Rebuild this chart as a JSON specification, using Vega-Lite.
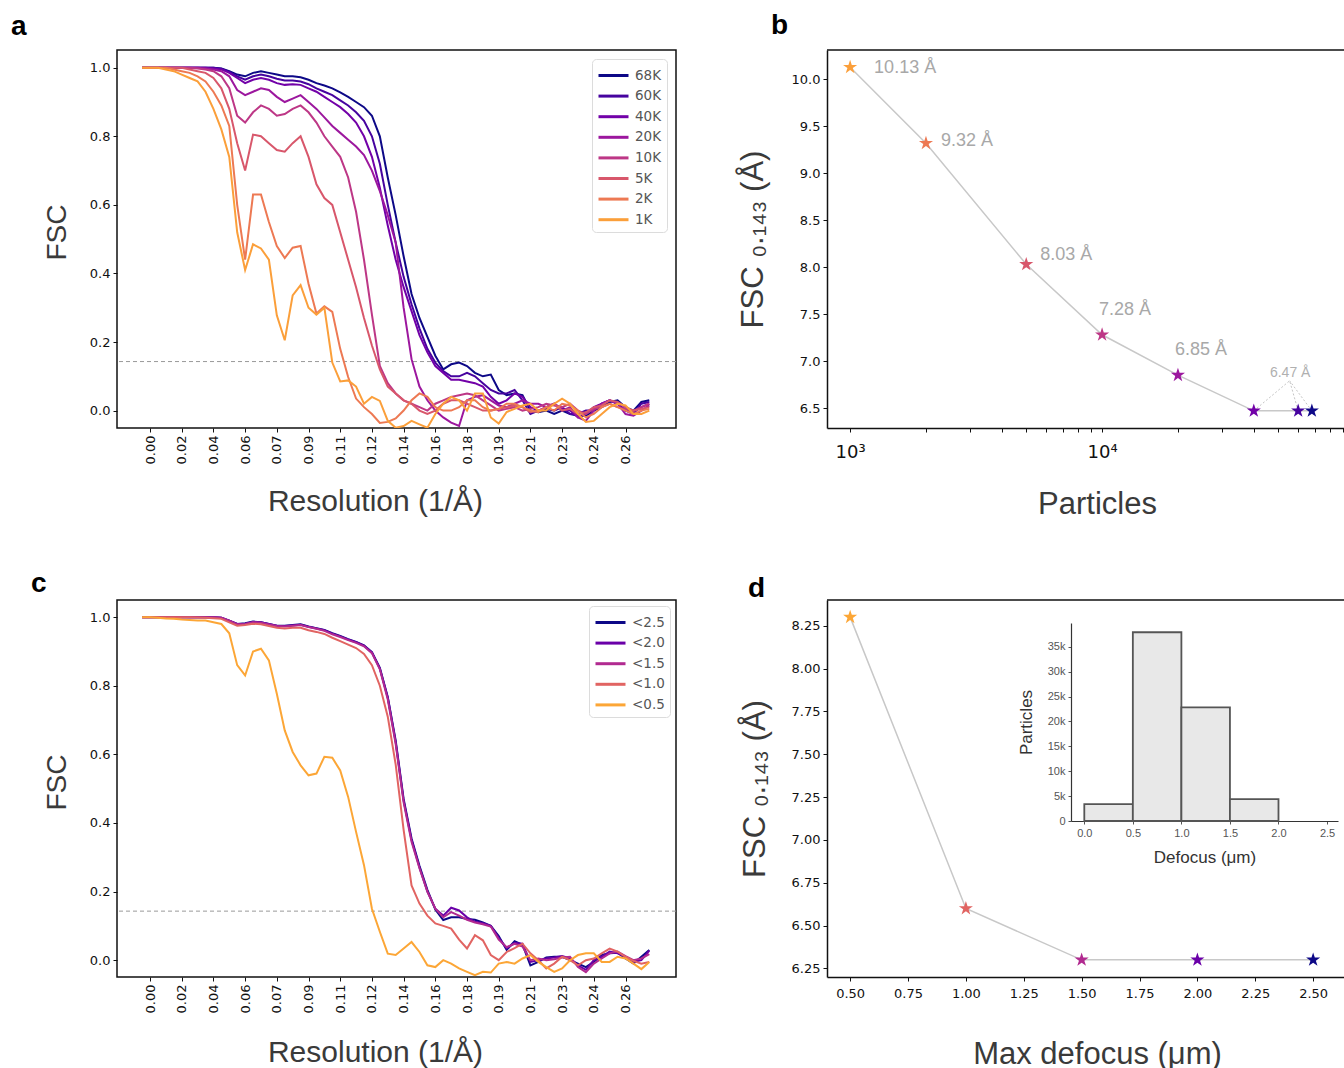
{
"$schema": "https://vega.github.io/schema/vega-lite/v6.json",
"background": "white",
"padding": {"left": 10, "top": 12, "right": 0, "bottom": 0},
"columns": 2,
"spacing": {"row": 172, "column": 151},
"bounds": "flush",
"resolve": {"scale": {"color": "independent"}, "legend": {"color": "independent"}},
"concat": [
{
 "width": 559, "height": 378,
 "title": {"text": "a", "dx": -106, "offset": 9},
 "layer": [
  {"data": {"values": [{}]}, "mark": {"type": "rule", "color": "#9a9a9a", "strokeDash": [4, 3], "strokeWidth": 1}, "encoding": {"y": {"datum": 0.143, "type": "quantitative"}}},
  {"data": {"values": [
{"k":0,"68K":1,"60K":1,"40K":1,"20K":1,"10K":1,"5K":1,"2K":1,"1K":1},
{"k":1,"68K":1,"60K":1,"40K":1,"20K":1,"10K":1,"5K":1,"2K":1,"1K":1},
{"k":2,"68K":1,"60K":1,"40K":1,"20K":1,"10K":1,"5K":1,"2K":1,"1K":1},
{"k":3,"68K":1,"60K":1,"40K":1,"20K":1,"10K":1,"5K":1,"2K":1,"1K":0.995},
{"k":4,"68K":1,"60K":1,"40K":1,"20K":1,"10K":1,"5K":1,"2K":0.995,"1K":0.99},
{"k":5,"68K":1,"60K":1,"40K":1,"20K":1,"10K":1,"5K":1,"2K":0.99,"1K":0.98},
{"k":6,"68K":1,"60K":1,"40K":1,"20K":1,"10K":1,"5K":0.995,"2K":0.985,"1K":0.97},
{"k":7,"68K":1,"60K":1,"40K":1,"20K":1,"10K":0.998,"5K":0.99,"2K":0.975,"1K":0.96},
{"k":8,"68K":1,"60K":1,"40K":1,"20K":0.998,"10K":0.995,"5K":0.985,"2K":0.96,"1K":0.93},
{"k":9,"68K":1,"60K":1,"40K":0.998,"20K":0.995,"10K":0.99,"5K":0.97,"2K":0.93,"1K":0.88},
{"k":10,"68K":0.998,"60K":0.997,"40K":0.995,"20K":0.99,"10K":0.975,"5K":0.94,"2K":0.89,"1K":0.82},
{"k":11,"68K":0.99,"60K":0.988,"40K":0.985,"20K":0.975,"10K":0.94,"5K":0.88,"2K":0.83,"1K":0.74},
{"k":12,"68K":0.98,"60K":0.975,"40K":0.97,"20K":0.935,"10K":0.86,"5K":0.78,"2K":0.6,"1K":0.52},
{"k":13,"68K":0.975,"60K":0.965,"40K":0.955,"20K":0.92,"10K":0.84,"5K":0.7,"2K":0.44,"1K":0.41},
{"k":14,"68K":0.985,"60K":0.975,"40K":0.965,"20K":0.93,"10K":0.87,"5K":0.805,"2K":0.63,"1K":0.485},
{"k":15,"68K":0.99,"60K":0.98,"40K":0.97,"20K":0.94,"10K":0.89,"5K":0.8,"2K":0.63,"1K":0.473},
{"k":16,"68K":0.985,"60K":0.975,"40K":0.965,"20K":0.935,"10K":0.88,"5K":0.78,"2K":0.55,"1K":0.44},
{"k":17,"68K":0.98,"60K":0.968,"40K":0.955,"20K":0.915,"10K":0.86,"5K":0.76,"2K":0.48,"1K":0.278},
{"k":18,"68K":0.975,"60K":0.963,"40K":0.95,"20K":0.9,"10K":0.865,"5K":0.755,"2K":0.445,"1K":0.205},
{"k":19,"68K":0.975,"60K":0.963,"40K":0.952,"20K":0.91,"10K":0.88,"5K":0.78,"2K":0.475,"1K":0.336},
{"k":20,"68K":0.972,"60K":0.96,"40K":0.95,"20K":0.92,"10K":0.89,"5K":0.8,"2K":0.48,"1K":0.366},
{"k":21,"68K":0.965,"60K":0.952,"40K":0.94,"20K":0.9,"10K":0.87,"5K":0.74,"2K":0.37,"1K":0.3},
{"k":22,"68K":0.955,"60K":0.94,"40K":0.93,"20K":0.88,"10K":0.84,"5K":0.66,"2K":0.283,"1K":0.28},
{"k":23,"68K":0.948,"60K":0.93,"40K":0.915,"20K":0.855,"10K":0.8,"5K":0.62,"2K":0.304,"1K":0.3},
{"k":24,"68K":0.94,"60K":0.92,"40K":0.9,"20K":0.83,"10K":0.77,"5K":0.6,"2K":0.288,"1K":0.14},
{"k":25,"68K":0.928,"60K":0.905,"40K":0.885,"20K":0.81,"10K":0.74,"5K":0.52,"2K":0.18,"1K":0.085},
{"k":26,"68K":0.915,"60K":0.89,"40K":0.865,"20K":0.79,"10K":0.68,"5K":0.44,"2K":0.098,"1K":0.088},
{"k":27,"68K":0.9,"60K":0.87,"40K":0.84,"20K":0.77,"10K":0.58,"5K":0.36,"2K":0.035,"1K":0.07},
{"k":28,"68K":0.885,"60K":0.845,"40K":0.8,"20K":0.745,"10K":0.44,"5K":0.27,"2K":0.01,"1K":0.02},
{"k":29,"68K":0.86,"60K":0.8,"40K":0.74,"20K":0.7,"10K":0.28,"5K":0.19,"2K":-0.01,"1K":0.04},
{"k":30,"68K":0.8,"60K":0.72,"40K":0.65,"20K":0.64,"10K":0.13,"5K":0.12,"2K":-0.036,"1K":0.028},
{"k":31,"68K":0.68,"60K":0.6,"40K":0.54,"20K":0.57,"10K":0.08,"5K":0.07,"2K":-0.033,"1K":-0.03},
{"k":32,"68K":0.57,"60K":0.49,"40K":0.44,"20K":0.49,"10K":0.05,"5K":0.05,"2K":-0.023,"1K":-0.05},
{"k":33,"68K":0.45,"60K":0.39,"40K":0.36,"20K":0.3,"10K":0.03,"5K":0.03,"2K":0,"1K":-0.045},
{"k":34,"68K":0.34,"60K":0.31,"40K":0.29,"20K":0.15,"10K":0.02,"5K":0.02,"2K":0.03,"1K":-0.03},
{"k":35,"68K":0.27,"60K":0.24,"40K":0.22,"20K":0.07,"10K":0.01,"5K":0,"2K":0.05,"1K":-0.04},
{"k":36,"68K":0.215,"60K":0.18,"40K":0.17,"20K":0.03,"10K":0,"5K":-0.01,"2K":0.04,"1K":-0.05},
{"k":37,"68K":0.16,"60K":0.14,"40K":0.13,"20K":0,"10K":0.02,"5K":0,"2K":0.01,"1K":-0.01},
{"k":38,"68K":0.12,"60K":0.115,"40K":0.11,"20K":-0.02,"10K":0.03,"5K":0.02,"2K":0,"1K":0.02},
{"k":39,"68K":0.135,"60K":0.1,"40K":0.09,"20K":-0.035,"10K":0.04,"5K":0.03,"2K":0,"1K":0.04},
{"k":40,"68K":0.14,"60K":0.1,"40K":0.09,"20K":-0.045,"10K":0.045,"5K":0.03,"2K":0.01,"1K":0.03},
{"k":41,"68K":0.13,"60K":0.11,"40K":0.085,"20K":0.03,"10K":0.05,"5K":0.02,"2K":0.03,"1K":0},
{"k":42,"68K":0.11,"60K":0.1,"40K":0.08,"20K":0.04,"10K":0.045,"5K":0.01,"2K":0.03,"1K":0.05},
{"k":43,"68K":0.1,"60K":0.08,"40K":0.07,"20K":0.045,"10K":0.03,"5K":0,"2K":0.01,"1K":0.05},
{"k":44,"68K":0.105,"60K":0.06,"40K":0.04,"20K":0.03,"10K":0.015,"5K":0,"2K":0,"1K":-0.02},
{"k":45,"68K":0.06,"60K":0.05,"40K":0.02,"20K":0.015,"10K":0,"5K":0.005,"2K":0.005,"1K":-0.038},
{"k":46,"68K":0.045,"60K":0.05,"40K":0.03,"20K":0.01,"10K":0.005,"5K":0.01,"2K":0.02,"1K":-0.004},
{"k":47,"68K":0.05,"60K":0.06,"40K":0.05,"20K":0.02,"10K":0.01,"5K":0.015,"2K":0.02,"1K":0.005},
{"k":48,"68K":0.045,"60K":0.03,"40K":0.04,"20K":0.03,"10K":0,"5K":0.01,"2K":0.01,"1K":0.015},
{"k":49,"68K":0,"60K":-0.01,"40K":0.01,"20K":0.02,"10K":0.005,"5K":-0.005,"2K":0,"1K":0.02},
{"k":50,"68K":-0.005,"60K":0,"40K":0,"20K":0.02,"10K":0.01,"5K":0,"2K":-0.005,"1K":0},
{"k":51,"68K":0,"60K":0.005,"40K":0.01,"20K":0.01,"10K":0.02,"5K":0.01,"2K":0.01,"1K":0},
{"k":52,"68K":-0.01,"60K":0,"40K":0.02,"20K":0.02,"10K":0.015,"5K":0.02,"2K":0,"1K":0.02},
{"k":53,"68K":0,"60K":0.01,"40K":0.005,"20K":0,"10K":0.01,"5K":0,"2K":0.02,"1K":0.035},
{"k":54,"68K":-0.01,"60K":-0.01,"40K":0,"20K":0.01,"10K":0.02,"5K":0.005,"2K":0.015,"1K":0.02},
{"k":55,"68K":-0.015,"60K":-0.01,"40K":-0.02,"20K":-0.02,"10K":0,"5K":-0.01,"2K":0,"1K":-0.01},
{"k":56,"68K":-0.015,"60K":0,"40K":-0.01,"20K":-0.03,"10K":-0.01,"5K":-0.005,"2K":-0.02,"1K":-0.033},
{"k":57,"68K":0,"60K":0,"40K":0.01,"20K":0,"10K":0.005,"5K":0.01,"2K":-0.01,"1K":-0.03},
{"k":58,"68K":0.01,"60K":0.02,"40K":0.02,"20K":0.02,"10K":0.01,"5K":0.015,"2K":0.01,"1K":-0.01},
{"k":59,"68K":0.025,"60K":0.03,"40K":0.03,"20K":0.03,"10K":0.02,"5K":0.03,"2K":0.02,"1K":0.01},
{"k":60,"68K":0.03,"60K":0.02,"40K":0.02,"20K":0.02,"10K":0.01,"5K":0.025,"2K":0.01,"1K":0.02},
{"k":61,"68K":0.01,"60K":0,"40K":0,"20K":-0.01,"10K":0.005,"5K":0.01,"2K":0,"1K":0.015},
{"k":62,"68K":0,"60K":-0.01,"40K":-0.005,"20K":-0.015,"10K":0,"5K":0,"2K":-0.01,"1K":-0.01},
{"k":63,"68K":0.025,"60K":0.02,"40K":0.01,"20K":0,"10K":0.01,"5K":0.005,"2K":0,"1K":-0.01},
{"k":64,"68K":0.03,"60K":0.025,"40K":0.02,"20K":0.015,"10K":0.02,"5K":0.01,"2K":0.005,"1K":0}
  ]},
   "transform": [{"fold": ["68K","60K","40K","20K","10K","5K","2K","1K"], "as": ["set","fsc"]}],
   "mark": {"type": "line", "strokeWidth": 2, "clip": true},
   "encoding": {
    "x": {"field": "k", "type": "quantitative", "scale": {"domain": [-3.167, 67.37], "nice": false, "zero": false},
          "axis": {"values": [1,5,9,13,17,21,25,29,33,37,41,45,49,53,57,61], "labelExpr": "['0.00','0.02','0.04','0.06','0.07','0.09','0.11','0.12','0.14','0.16','0.18','0.19','0.21','0.23','0.24','0.26'][(datum.value-1)/4]", "labelAngle": -90, "title": "Resolution (1/Å)", "titlePadding": 23, "titleFontSize": 30, "titleX": 258}},
    "y": {"field": "fsc", "type": "quantitative", "scale": {"domain": [-0.0508, 1.0517], "nice": false, "zero": false},
          "axis": {"values": [0,0.2,0.4,0.6,0.8,1], "format": ".1f", "title": "FSC", "titlePadding": 18, "titleY": 182}},
    "color": {"field": "set", "type": "nominal", "scale": {"domain": ["68K","60K","40K","20K","10K","5K","2K","1K"], "range": ["#0d0887","#46039f","#7201a8","#9c179e","#bd3786","#d8576b","#ed7953","#fb9f3a"]},
          "legend": {"title": null, "orient": "top-right", "offset": 9, "padding": 5, "fillColor": "white", "strokeColor": "#dcdcdc", "cornerRadius": 4, "symbolType": "M-1.5,0H1.5", "symbolStrokeWidth": 3, "symbolSize": 400, "symbolOffset": 5, "labelOffset": 10, "labelFontSize": 13.5, "labelColor": "#555", "labelFont": "DejaVu Sans", "rowPadding": 2.6}}
   }}
 ]
},
{
 "width": 518, "height": 378,
 "view": {"stroke": null},
 "title": {"text": "b", "dx": -56, "offset": 9},
 "layer": [
  {"data": {"values": [{}]}, "mark": {"type": "rule", "color": "#111", "strokeWidth": 1.5}, "encoding": {"y": {"datum": 10.313, "type": "quantitative"}}},
  {"data": {"name": "pb"}, "mark": {"type": "line", "color": "#c8c8c8", "strokeWidth": 1.5},
   "encoding": {
    "x": {"field": "n", "type": "quantitative", "scale": {"type": "log", "domain": [809.6, 92050], "nice": false},
          "axis": {"values": [1000,2000,3000,4000,5000,6000,7000,8000,9000,10000,20000,30000,40000,50000,60000,70000,80000,90000], "labelExpr": "datum.value == 1000 ? '10³' : datum.value == 10000 ? '10⁴' : ''", "labelFontSize": 18, "labelPadding": 11, "domain": true, "domainColor": "#111", "domainWidth": 1.5, "title": "Particles", "titleFontSize": 31, "titleX": 270, "titlePadding": 28}},
    "y": {"field": "res", "type": "quantitative", "scale": {"domain": [6.287, 10.313], "nice": false, "zero": false},
          "axis": {"values": [6.5,7,7.5,8,8.5,9,9.5,10], "format": ".1f", "domain": true, "domainColor": "#111", "domainWidth": 1.5, "title": "FSC ₀.₁₄₃ (Å)", "titleFontSize": 31, "titlePadding": 22}}
   }},
  {"data": {"name": "pb"}, "transform": [{"filter": "datum.n >= 40000"}], "mark": {"type": "rule", "color": "#bdbdbd", "strokeWidth": 0.9, "strokeDash": [2, 2]},
   "encoding": {"x": {"field": "n", "type": "quantitative"}, "y": {"field": "res", "type": "quantitative"}, "x2": {"datum": 55500}, "y2": {"datum": 6.79}}},
  {"data": {"name": "pb"}, "mark": {"type": "point", "filled": true, "opacity": 1, "size": 220, "shape": "M0,-1L0.2245,-0.309L0.951,-0.309L0.3633,0.118L0.5878,0.809L0,0.382L-0.5878,0.809L-0.3633,0.118L-0.951,-0.309L-0.2245,-0.309Z"},
   "encoding": {"x": {"field": "n", "type": "quantitative"}, "y": {"field": "res", "type": "quantitative"},
    "color": {"field": "pset", "type": "nominal", "scale": {"domain": ["68K","60K","40K","20K","10K","5K","2K","1K"], "range": ["#0d0887","#46039f","#7201a8","#9c179e","#bd3786","#d8576b","#ed7953","#fb9f3a"]}, "legend": null}}},
  {"data": {"name": "pb"}, "transform": [{"filter": "datum.n == 1000"}], "mark": {"type": "text", "align": "left", "baseline": "middle", "dx": 24, "dy": 1, "fontSize": 18, "color": "#a8a8a8"},
   "encoding": {"x": {"field": "n", "type": "quantitative"}, "y": {"field": "res", "type": "quantitative"}, "text": {"field": "lab"}}},
  {"data": {"name": "pb"}, "transform": [{"filter": "datum.n == 2000"}], "mark": {"type": "text", "align": "left", "baseline": "middle", "dx": 15, "dy": -2, "fontSize": 18, "color": "#a8a8a8"},
   "encoding": {"x": {"field": "n", "type": "quantitative"}, "y": {"field": "res", "type": "quantitative"}, "text": {"field": "lab"}}},
  {"data": {"name": "pb"}, "transform": [{"filter": "datum.n == 5000"}], "mark": {"type": "text", "align": "left", "baseline": "middle", "dx": 14, "dy": -9, "fontSize": 18, "color": "#a8a8a8"},
   "encoding": {"x": {"field": "n", "type": "quantitative"}, "y": {"field": "res", "type": "quantitative"}, "text": {"field": "lab"}}},
  {"data": {"name": "pb"}, "transform": [{"filter": "datum.n == 10000 || datum.n == 20000"}], "mark": {"type": "text", "align": "left", "baseline": "middle", "dx": -3, "dy": -25, "fontSize": 18, "color": "#a8a8a8"},
   "encoding": {"x": {"field": "n", "type": "quantitative"}, "y": {"field": "res", "type": "quantitative"}, "text": {"field": "lab"}}},
  {"data": {"name": "pb"}, "transform": [{"filter": "datum.n == 60000"}], "mark": {"type": "text", "align": "center", "baseline": "middle", "dx": -8, "dy": -38, "fontSize": 14, "color": "#b0b0b0"},
   "encoding": {"x": {"field": "n", "type": "quantitative"}, "y": {"field": "res", "type": "quantitative"}, "text": {"field": "lab"}}}
 ]
},
{
 "width": 559, "height": 377,
 "title": {"text": "c", "dx": -86, "offset": 2},
 "layer": [
  {"data": {"values": [{}]}, "mark": {"type": "rule", "color": "#9a9a9a", "strokeDash": [4, 3], "strokeWidth": 1}, "encoding": {"y": {"datum": 0.143, "type": "quantitative"}}},
  {"data": {"values": [
{"k":0,"m25":1,"m20":1,"m15":1,"m10":1,"m05":1},
{"k":1,"m25":1,"m20":1,"m15":1,"m10":1,"m05":1},
{"k":2,"m25":1,"m20":1,"m15":1,"m10":1,"m05":0.998},
{"k":3,"m25":1,"m20":1,"m15":1,"m10":1,"m05":0.996},
{"k":4,"m25":1,"m20":1,"m15":1,"m10":1,"m05":0.995},
{"k":5,"m25":1,"m20":1,"m15":1,"m10":1,"m05":0.993},
{"k":6,"m25":1,"m20":1,"m15":1,"m10":1,"m05":0.992},
{"k":7,"m25":1,"m20":1,"m15":1,"m10":0.999,"m05":0.99},
{"k":8,"m25":1,"m20":1,"m15":1,"m10":0.998,"m05":0.99},
{"k":9,"m25":1,"m20":1,"m15":1,"m10":0.997,"m05":0.985},
{"k":10,"m25":0.998,"m20":0.998,"m15":0.998,"m10":0.995,"m05":0.98},
{"k":11,"m25":0.99,"m20":0.99,"m15":0.99,"m10":0.985,"m05":0.953},
{"k":12,"m25":0.98,"m20":0.98,"m15":0.979,"m10":0.975,"m05":0.86},
{"k":13,"m25":0.982,"m20":0.981,"m15":0.98,"m10":0.977,"m05":0.83},
{"k":14,"m25":0.987,"m20":0.986,"m15":0.985,"m10":0.981,"m05":0.9},
{"k":15,"m25":0.985,"m20":0.985,"m15":0.984,"m10":0.979,"m05":0.908},
{"k":16,"m25":0.98,"m20":0.98,"m15":0.979,"m10":0.974,"m05":0.874},
{"k":17,"m25":0.975,"m20":0.975,"m15":0.974,"m10":0.969,"m05":0.777},
{"k":18,"m25":0.975,"m20":0.974,"m15":0.973,"m10":0.967,"m05":0.67},
{"k":19,"m25":0.977,"m20":0.976,"m15":0.975,"m10":0.969,"m05":0.607},
{"k":20,"m25":0.979,"m20":0.978,"m15":0.977,"m10":0.969,"m05":0.568},
{"k":21,"m25":0.973,"m20":0.972,"m15":0.971,"m10":0.962,"m05":0.539},
{"k":22,"m25":0.968,"m20":0.967,"m15":0.966,"m10":0.957,"m05":0.544},
{"k":23,"m25":0.963,"m20":0.962,"m15":0.96,"m10":0.951,"m05":0.593},
{"k":24,"m25":0.953,"m20":0.952,"m15":0.95,"m10":0.94,"m05":0.59},
{"k":25,"m25":0.945,"m20":0.944,"m15":0.942,"m10":0.93,"m05":0.553},
{"k":26,"m25":0.936,"m20":0.935,"m15":0.933,"m10":0.92,"m05":0.476},
{"k":27,"m25":0.928,"m20":0.927,"m15":0.925,"m10":0.91,"m05":0.374},
{"k":28,"m25":0.918,"m20":0.917,"m15":0.915,"m10":0.893,"m05":0.277},
{"k":29,"m25":0.898,"m20":0.897,"m15":0.895,"m10":0.86,"m05":0.15},
{"k":30,"m25":0.852,"m20":0.85,"m15":0.848,"m10":0.8,"m05":0.083},
{"k":31,"m25":0.767,"m20":0.765,"m15":0.76,"m10":0.71,"m05":0.019},
{"k":32,"m25":0.64,"m20":0.635,"m15":0.63,"m10":0.57,"m05":0.015},
{"k":33,"m25":0.47,"m20":0.465,"m15":0.46,"m10":0.38,"m05":0.034},
{"k":34,"m25":0.355,"m20":0.35,"m15":0.345,"m10":0.218,"m05":0.053},
{"k":35,"m25":0.275,"m20":0.27,"m15":0.268,"m10":0.165,"m05":0.024},
{"k":36,"m25":0.205,"m20":0.2,"m15":0.2,"m10":0.13,"m05":-0.015},
{"k":37,"m25":0.148,"m20":0.15,"m15":0.15,"m10":0.107,"m05":-0.02},
{"k":38,"m25":0.117,"m20":0.13,"m15":0.125,"m10":0.1,"m05":0},
{"k":39,"m25":0.125,"m20":0.153,"m15":0.14,"m10":0.092,"m05":-0.01},
{"k":40,"m25":0.125,"m20":0.145,"m15":0.13,"m10":0.06,"m05":-0.024},
{"k":41,"m25":0.12,"m20":0.125,"m15":0.118,"m10":0.034,"m05":-0.034},
{"k":42,"m25":0.118,"m20":0.112,"m15":0.11,"m10":0.073,"m05":-0.044},
{"k":43,"m25":0.11,"m20":0.108,"m15":0.105,"m10":0.058,"m05":-0.034},
{"k":44,"m25":0.1,"m20":0.1,"m15":0.098,"m10":0.015,"m05":-0.036},
{"k":45,"m25":0.07,"m20":0.065,"m15":0.06,"m10":0,"m05":-0.01},
{"k":46,"m25":0.03,"m20":0.035,"m15":0.038,"m10":0.024,"m05":-0.005},
{"k":47,"m25":0.055,"m20":0.05,"m15":0.048,"m10":0.035,"m05":-0.01},
{"k":48,"m25":0.045,"m20":0.048,"m15":0.04,"m10":0.048,"m05":0.005},
{"k":49,"m25":-0.015,"m20":-0.005,"m15":0,"m10":0.02,"m05":0.015},
{"k":50,"m25":-0.005,"m20":0,"m15":0.005,"m10":0,"m05":-0.005},
{"k":51,"m25":0.008,"m20":0.005,"m15":0,"m10":-0.024,"m05":-0.02},
{"k":52,"m25":0.01,"m20":0.008,"m15":0.003,"m10":-0.01,"m05":-0.034},
{"k":53,"m25":0.01,"m20":0.012,"m15":0.008,"m10":0.01,"m05":-0.024},
{"k":54,"m25":0,"m20":0.005,"m15":0.01,"m10":0,"m05":0},
{"k":55,"m25":-0.01,"m20":-0.015,"m15":-0.02,"m10":-0.015,"m05":0.015},
{"k":56,"m25":-0.02,"m20":-0.028,"m15":-0.035,"m10":0,"m05":0.02},
{"k":57,"m25":-0.005,"m20":0,"m15":-0.01,"m10":0.005,"m05":0.02},
{"k":58,"m25":0.015,"m20":0.01,"m15":0.005,"m10":0.02,"m05":-0.005},
{"k":59,"m25":0.02,"m20":0.025,"m15":0.02,"m10":0.034,"m05":-0.005},
{"k":60,"m25":0.022,"m20":0.02,"m15":0.025,"m10":0.025,"m05":0.01},
{"k":61,"m25":0.005,"m20":0.01,"m15":0.012,"m10":0.01,"m05":0.005},
{"k":62,"m25":-0.01,"m20":-0.005,"m15":0,"m10":-0.002,"m05":-0.01},
{"k":63,"m25":0.01,"m20":0,"m15":0.005,"m10":-0.01,"m05":-0.026},
{"k":64,"m25":0.03,"m20":0.028,"m15":0.018,"m10":-0.005,"m05":-0.005}
  ]},
   "transform": [{"fold": ["m25","m20","m15","m10","m05"], "as": ["cut","fsc"]}],
   "mark": {"type": "line", "strokeWidth": 2, "clip": true},
   "encoding": {
    "x": {"field": "k", "type": "quantitative", "scale": {"domain": [-3.167, 67.37], "nice": false, "zero": false},
          "axis": {"values": [1,5,9,13,17,21,25,29,33,37,41,45,49,53,57,61], "labelExpr": "['0.00','0.02','0.04','0.06','0.07','0.09','0.11','0.12','0.14','0.16','0.18','0.19','0.21','0.23','0.24','0.26'][(datum.value-1)/4]", "labelAngle": -90, "title": "Resolution (1/Å)", "titlePadding": 25, "titleFontSize": 30, "titleX": 258}},
    "y": {"field": "fsc", "type": "quantitative", "scale": {"domain": [-0.049, 1.05], "nice": false, "zero": false},
          "axis": {"values": [0,0.2,0.4,0.6,0.8,1], "format": ".1f", "title": "FSC", "titlePadding": 18, "titleY": 182}},
    "color": {"field": "cut", "type": "nominal", "scale": {"domain": ["m25","m20","m15","m10","m05"], "range": ["#0d0887","#6a00a8","#b12a90","#e16462","#fca636"]},
          "legend": {"title": null, "orient": "top-right", "offset": 6, "padding": 5, "fillColor": "white", "strokeColor": "#dcdcdc", "cornerRadius": 4, "symbolType": "M-1.5,0H1.5", "symbolStrokeWidth": 3, "symbolSize": 400, "symbolOffset": 5, "labelOffset": 10, "labelFontSize": 13.5, "labelColor": "#555", "labelFont": "DejaVu Sans", "rowPadding": 2.6,
                     "labelExpr": "datum.label == 'm25' ? '<2.5' : datum.label == 'm20' ? '<2.0' : datum.label == 'm15' ? '<1.5' : datum.label == 'm10' ? '<1.0' : '<0.5'"}}
   }}
 ]
},
{
 "width": 518, "height": 377,
 "view": {"stroke": null},
 "title": {"text": "d", "dx": -79, "offset": 0, "dy": 4},
 "layer": [
  {"layer": [
    {"data": {"values": [{}]}, "mark": {"type": "rule", "color": "#111", "strokeWidth": 1.5}, "encoding": {"y": {"datum": 8.4, "type": "quantitative"}}},
    {"data": {"name": "pd"}, "mark": {"type": "line", "color": "#c8c8c8", "strokeWidth": 1.5},
     "encoding": {
      "x": {"field": "mx", "type": "quantitative", "scale": {"domain": [0.4, 2.6376], "nice": false, "zero": false},
            "axis": {"orient": "bottom", "values": [0.5,0.75,1,1.25,1.5,1.75,2,2.25,2.5], "format": ".2f", "labelPadding": 6, "domain": true, "domainColor": "#111", "domainWidth": 1.5, "title": "Max defocus (μm)", "titleFontSize": 31, "titleX": 270, "titlePadding": 39}},
      "y": {"field": "res", "type": "quantitative", "scale": {"domain": [6.2, 8.4], "nice": false, "zero": false},
            "axis": {"orient": "left", "values": [6.25,6.5,6.75,7,7.25,7.5,7.75,8,8.25], "format": ".2f", "domain": true, "domainColor": "#111", "domainWidth": 1.5, "title": "FSC ₀.₁₄₃ (Å)", "titleFontSize": 31, "titlePadding": 20}}
     }},
    {"data": {"name": "pd"}, "mark": {"type": "point", "filled": true, "opacity": 1, "size": 220, "shape": "M0,-1L0.2245,-0.309L0.951,-0.309L0.3633,0.118L0.5878,0.809L0,0.382L-0.5878,0.809L-0.3633,0.118L-0.951,-0.309L-0.2245,-0.309Z"},
     "encoding": {"x": {"field": "mx", "type": "quantitative"}, "y": {"field": "res", "type": "quantitative"},
      "color": {"field": "ds", "type": "nominal", "scale": {"domain": ["d25","d20","d15","d10","d05"], "range": ["#0d0887","#6a00a8","#b12a90","#e16462","#fca636"]}, "legend": null}}}
  ]},
  {"data": {"values": [{"b0":0,"b1":0.5,"cnt":3400},{"b0":0.5,"b1":1.0,"cnt":37900},{"b0":1.0,"b1":1.5,"cnt":22800},{"b0":1.5,"b1":2.0,"cnt":4400}]},
   "mark": {"type": "bar", "fill": "#e8e8e8", "stroke": "#555", "strokeWidth": 1.8},
   "encoding": {
    "x": {"field": "b0", "type": "quantitative", "scale": {"domain": [-0.137, 2.613], "range": [244, 511], "nice": false, "zero": false},
          "axis": {"orient": "bottom", "offset": -156, "values": [0,0.5,1,1.5,2,2.5], "format": ".1f", "labelFont": "Liberation Sans", "labelFontSize": 11, "labelColor": "#555", "tickSize": 3, "tickColor": "#555", "domain": true, "domainColor": "#333", "domainWidth": 1.2, "title": "Defocus (μm)", "titleFontSize": 17, "titleColor": "#333", "titlePadding": 11}},
    "x2": {"field": "b1"},
    "y": {"field": "cnt", "type": "quantitative", "scale": {"domain": [0, 39760], "range": [221, 23], "nice": false},
          "axis": {"orient": "left", "offset": -244, "values": [0,5000,10000,15000,20000,25000,30000,35000], "labelExpr": "datum.value == 0 ? '0' : (datum.value/1000) + 'k'", "labelFont": "Liberation Sans", "labelFontSize": 11, "labelColor": "#555", "tickSize": 3, "tickColor": "#555", "domain": true, "domainColor": "#333", "domainWidth": 1.2, "title": "Particles", "titleFontSize": 17, "titleColor": "#333", "titlePadding": 12}},
    "y2": {"datum": 0}
   }}
 ],
 "resolve": {"scale": {"x": "independent", "y": "independent"}, "axis": {"x": "independent", "y": "independent"}}
}
],
"datasets": {
 "pb": [
  {"n":1000,"res":10.13,"pset":"1K","lab":"10.13 Å"},
  {"n":2000,"res":9.32,"pset":"2K","lab":"9.32 Å"},
  {"n":5000,"res":8.03,"pset":"5K","lab":"8.03 Å"},
  {"n":10000,"res":7.28,"pset":"10K","lab":"7.28 Å"},
  {"n":20000,"res":6.85,"pset":"20K","lab":"6.85 Å"},
  {"n":40000,"res":6.47,"pset":"40K","lab":"6.47 Å"},
  {"n":60000,"res":6.47,"pset":"60K","lab":"6.47 Å"},
  {"n":68000,"res":6.47,"pset":"68K","lab":"6.47 Å"}
 ],
 "pd": [
  {"mx":0.5,"res":8.3,"ds":"d05"},
  {"mx":1.0,"res":6.6,"ds":"d10"},
  {"mx":1.5,"res":6.3,"ds":"d15"},
  {"mx":2.0,"res":6.3,"ds":"d20"},
  {"mx":2.5,"res":6.3,"ds":"d25"}
 ]
},
"config": {
 "font": "Liberation Sans",
 "view": {"stroke": "#111", "strokeWidth": 1.5},
 "axis": {"grid": false, "domain": false, "tickColor": "#111", "tickSize": 4, "tickWidth": 1, "labelFont": "DejaVu Sans", "labelFontSize": 13, "labelColor": "#111", "labelPadding": 3, "titleFont": "Liberation Sans", "titleFontWeight": "normal", "titleColor": "#3a3a3a", "titleFontSize": 28},
 "title": {"fontSize": 28, "fontWeight": "bold", "font": "Liberation Sans", "anchor": "start", "frame": "group", "color": "#000", "baseline": "alphabetic"}
}
}
